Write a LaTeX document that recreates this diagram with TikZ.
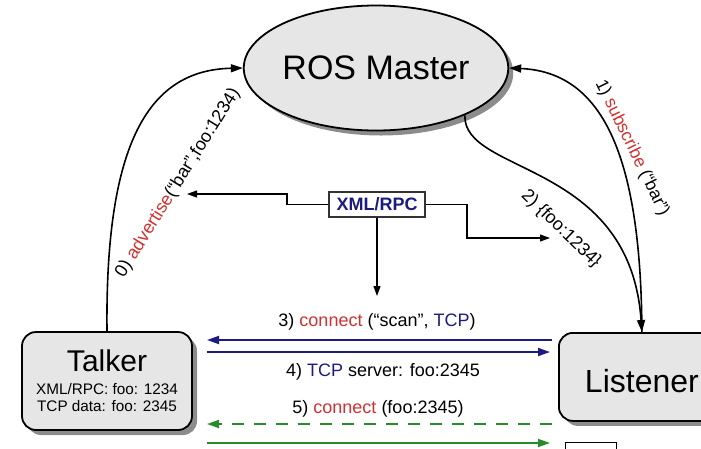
\documentclass[tikz,border=0pt]{standalone}
\usepackage{fontspec}
\setmainfont{Liberation Sans}
\usetikzlibrary{arrows.meta,shapes.geometric,shadows}
\definecolor{myred}{HTML}{D23030}
\definecolor{navy}{HTML}{1C1C80}
\definecolor{mygreen}{HTML}{2B8A2B}
\definecolor{boxfill}{HTML}{E6E6E6}
\definecolor{shadowgray}{HTML}{8C8C8C}
\begin{document}
\begin{tikzpicture}[x=1pt,y=-1pt,
  shadowed/.style={drop shadow={shadow xshift=5pt,shadow yshift=-5pt,fill=shadowgray,opacity=1}},
  roundbox/.style={draw,line width=1.8pt,fill=boxfill,rounded corners=14pt,inner sep=0pt,shadowed},
  bigtip/.style={-{Triangle[length=12pt,width=8pt]}},
  smalltip/.style={-{Triangle[length=10pt,width=7pt]}},
  curve/.style={line width=1.6pt,bigtip},
  xmlline/.style={line width=1.1pt,smalltip},
  navyline/.style={draw=navy,line width=1.8pt,-{Triangle[length=12pt,width=8pt]},color=navy},
  greenline/.style={draw=mygreen,line width=1.8pt,-{Triangle[length=12pt,width=8pt]},color=mygreen},
  lbl/.style={font=\fontsize{18}{20}\selectfont,inner sep=0pt},
]
\useasboundingbox (0,0) rectangle (701,448);
\begin{scope}
\clip (0,0) rectangle (701,448);

% nodes
\node[ellipse,draw,line width=1.8pt,fill=boxfill,minimum width=243pt,minimum height=125pt,
      inner sep=0pt,shadowed,font=\fontsize{34}{36}\selectfont] (master) at (376,68) {ROS Master};

\node[roundbox,minimum width=170pt,minimum height=98pt,align=center,
      font=\fontsize{15.3}{17}\selectfont] (talker) at (107,381)
      {{\fontsize{30}{30}\selectfont Talker}\\[6pt]XML/RPC: foo: 1234\\TCP data: foo: 2345};

\node[roundbox,minimum width=166pt,minimum height=88pt,anchor=north west,
      text height=31pt,text depth=0pt,font=\fontsize{32}{34}\selectfont] (listener) at (558,332) {Listener};

\node[draw,fill=white,line width=0.8pt,minimum width=51pt,minimum height=20pt,
      anchor=north west,inner sep=0pt] (smallbox) at (565,442) {};

\node[draw=black!80,line width=1.1pt,fill=white,minimum width=96pt,minimum height=25pt,inner sep=0pt,
      font=\bfseries\fontsize{18}{20}\selectfont,text=navy] (xml) at (377,204.5) {XML/RPC};

% curves to / from master
\draw[curve] (talker.north) .. controls (105,140) and (150,70) .. (master.west);
\draw[curve] (listener.north) .. controls (641,150) and (600,72) .. (master.east);
\draw[curve] (master.-28) .. controls (463,175) and (630,160) .. (listener.north);

% curve labels
\node[lbl,rotate=58] (advlbl) at (178,183)
  {0) \textcolor{myred}{advertise}(“bar”,foo:1234)};
\node[lbl,font=\fontsize{17.5}{20}\selectfont,rotate=-64] (sublbl) at (632,148)
  {1) \textcolor{myred}{subscribe} (“bar”)};
\node[lbl,rotate=-44] (foolbl) at (561,229) {2) \{foo:1234\}};

% XML/RPC connectors
\coordinate (advtip) at (187,194);
\coordinate (footip) at (550,238);
\coordinate (xmltip) at (377,296);
\draw[xmlline] (xml.west) -| (287,199) |- (advtip);
\draw[xmlline] (xml.east) -| (467,220) |- (footip);
\draw[xmlline] (xml.south) -- (xmltip);

% TCP connection arrows
\coordinate (l3) at (552,340);
\coordinate (t3) at (207,340);
\coordinate (t4) at (207,352);
\coordinate (l4) at (550,352);
\coordinate (l5) at (552,424);
\coordinate (t5) at (207,424);
\coordinate (t6) at (207,443);
\coordinate (l6) at (550,443);
\draw[navyline] (l3) -- (t3);
\draw[navyline] (t4) -- (l4);
\draw[greenline,dash pattern=on 12pt off 10pt] (l5) -- (t5);
\draw[greenline] (t6) -- (l6);

\node[lbl,anchor=base] (c3) at (377,326)
  {3) \textcolor{myred}{connect} (“scan”, \textcolor{navy}{TCP})};
\node[lbl,anchor=base] (c4) at (383,376)
  {4) \textcolor{navy}{TCP} server: foo:2345};
\node[lbl,anchor=base] (c5) at (378,413)
  {5) \textcolor{myred}{connect} (foo:2345)};
\end{scope}
\end{tikzpicture}
\end{document}
